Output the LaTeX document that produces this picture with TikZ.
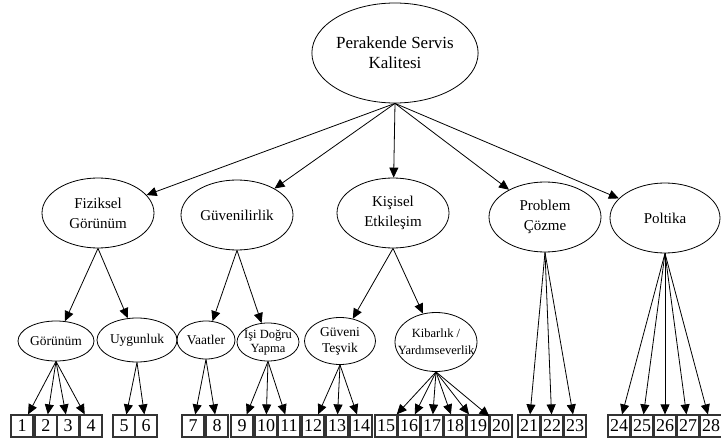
\documentclass[tikz,border=0pt]{standalone}
\usepackage{fontspec}
\setmainfont{Liberation Serif}
\usetikzlibrary{shapes.geometric,arrows.meta}

\begin{document}
\begin{tikzpicture}[x=1pt,y=-1pt,
    oval/.style={draw,ellipse,line width=0.8pt,inner sep=0pt,align=center},
    top/.style={oval,minimum width=112pt,minimum height=70pt,font=\fontsize{15}{20}\selectfont},
    sub/.style={oval,font=\fontsize{13.5}{16}\selectfont},
    item/.style={draw=black!80,line width=1.2pt,minimum size=22pt,inner sep=0pt,font=\fontsize{18}{18}\selectfont},
    arr/.style={-{Triangle[length=10pt,width=9pt]},line width=0.8pt}]
                \useasboundingbox (0,0) rectangle (721,441);
                \node[oval,minimum width=166pt,minimum height=100pt,font=\fontsize{17}{20}\selectfont] (psk) at (395,53) {Perakende Servis\\Kalitesi};
                \node[top] (fiz) at (98,213) {Fiziksel\\Görünüm};
                \node[top] (guv) at (237,215) {Güvenilirlik};
                \node[top] (kis) at (393,213) {Kişisel\\Etkileşim};
                \node[top] (pro) at (545,217) {Problem\\Çözme};
                \node[top,minimum width=110pt] (pol) at (665,218) {Poltika};
                \node[sub,minimum width=76pt,minimum height=40pt] (gor) at (56,341) {Görünüm};
                \node[sub,minimum width=80pt,minimum height=44pt] (uyg) at (137,340) {Uygunluk};
                \node[sub,minimum width=58pt,minimum height=38pt] (vaa) at (206,340) {Vaatler};
                \node[sub,minimum width=62pt,minimum height=38pt,inner xsep=-5pt,inner ysep=-3pt,font=\fontsize{12.5}{14}\selectfont] (idy) at (268,342) {İşi Doğru\\Yapma};
                \node[sub,minimum width=71pt,minimum height=47pt] (gtv) at (340,341) {Güveni\\Teşvik};
                \node[sub,minimum width=82pt,minimum height=59pt,inner xsep=-10pt,font=\fontsize{12.5}{17}\selectfont] (kib) at (436,342) {Kibarlık /\\Yardımseverlik};
                \foreach \n/\x in {1/22,2/46,3/68,4/91,5/124,6/146,7/193,8/217,9/242,10/266,11/289,12/313,13/337,14/361,
                    15/386,16/409,17/432,18/455,19/478,20/501,21/529,22/552,23/575,24/619,25/642,26/665,27/688,28/711}
                    \node[item] (b\n) at (\x,426) {\n};
                \foreach \c in {fiz,guv,kis,pro,pol}
                    \draw[arr] (psk.south) -- (\c);
                \draw[arr] (fiz.south) -- (gor);
                \draw[arr] (fiz.south) -- (uyg);
                \draw[arr] (guv.south) -- (vaa);
                \draw[arr] (guv.south) -- (idy);
                \draw[arr] (kis.south) -- (gtv);
                \draw[arr] (kis.south) -- (kib);
                \foreach \n in {1,...,4} \draw[arr] (gor.south) -- (b\n);
                \foreach \n in {5,6} \draw[arr] (uyg.south) -- (b\n);
                \foreach \n in {7,8} \draw[arr] (vaa.south) -- (b\n);
                \foreach \n in {9,10,11} \draw[arr] (idy.south) -- (b\n);
                \foreach \n in {12,13,14} \draw[arr] (gtv.south) -- (b\n);
                \foreach \n in {15,...,20} \draw[arr] (kib.south) -- (b\n);
                \foreach \n in {21,22,23} \draw[arr] (pro.south) -- (b\n);
                \foreach \n in {24,...,28} \draw[arr] (pol.south) -- (b\n);
            \end{tikzpicture}
\end{document}
